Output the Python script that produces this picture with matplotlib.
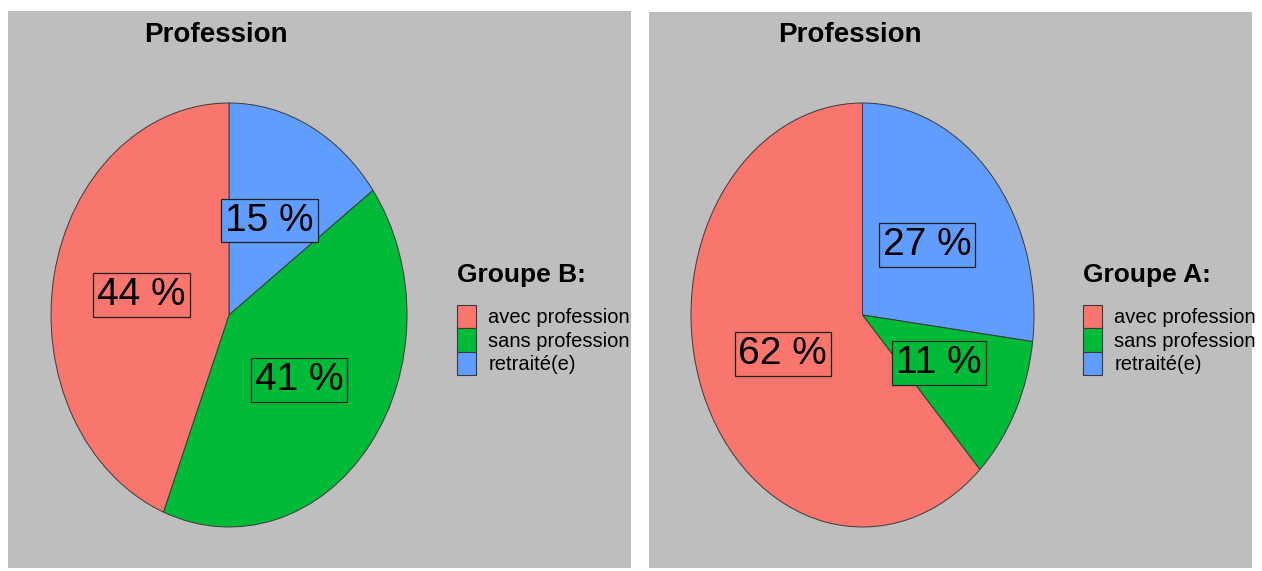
import matplotlib
matplotlib.use("Agg")
import matplotlib.pyplot as plt
from matplotlib.patches import Rectangle, Patch

# ---- data ----
categories = ["avec profession", "sans profession", "retraité(e)"]
colors = {"avec profession": "#F8766D", "sans profession": "#00BA38", "retraité(e)": "#619CFF"}
# pie drawn clockwise from top: retraité, sans, avec
pie_order = ["retraité(e)", "sans profession", "avec profession"]
groupe_b = {"avec profession": 44, "sans profession": 41, "retraité(e)": 15}
groupe_a = {"avec profession": 62, "sans profession": 11, "retraité(e)": 27}
title_text = "Profession"
legend_titles = ["Groupe B:", "Groupe A:"]

W, H = 1262, 571
fig = plt.figure(figsize=(W / 100, H / 100), dpi=100)
fig.patch.set_facecolor("white")

BG = "#BEBEBE"
EDGE = "#3a3a3a"
SANS = ["Liberation Sans", "DejaVu Sans"]


def fx(px):
    return px / W


def fy(py):
    return 1 - py / H


panels = [
    dict(rect=(8, 11, 631, 568), pie=(51, 103, 407, 527), title_x=216,
         leg=(443, 249), data=groupe_b, ltitle=legend_titles[0]),
    dict(rect=(649, 12, 1252, 568), pie=(691, 103, 1034, 527), title_x=850,
         leg=(1069, 249), data=groupe_a, ltitle=legend_titles[1]),
]

for p in panels:
    x0, y0, x1, y1 = p["rect"]
    fig.patches.append(Rectangle((fx(x0), fy(y1)), fx(x1 - x0), (y1 - y0) / H,
                                 transform=fig.transFigure, facecolor=BG,
                                 edgecolor="none", zorder=-5))
    px0, py0, px1, py1 = p["pie"]
    ax = fig.add_axes([fx(px0), fy(py1), fx(px1 - px0), (py1 - py0) / H])
    ax.set_axis_off()
    ax.set_zorder(2)
    vals = [p["data"][c] for c in pie_order]
    cols = [colors[c] for c in pie_order]
    wedges, texts, autotexts = ax.pie(
        vals, colors=cols, startangle=90, counterclock=False, radius=1,
        autopct=lambda v: f"{round(v)} %", pctdistance=0.5,
        wedgeprops=dict(edgecolor=EDGE, linewidth=0.7),
        textprops=dict(fontsize=28, family=SANS, color="black"))
    for t, c in zip(autotexts, cols):
        t.set_bbox(dict(boxstyle="square,pad=0.1", facecolor=c,
                        edgecolor="#222222", linewidth=0.9))
    ax.set_xlim(-1.0, 1.0)
    ax.set_ylim(-1.0, 1.0)
    ax.set_aspect("auto")

    fig.text(fx(p["title_x"]), fy(42), title_text, ha="center", va="baseline",
             fontsize=20, fontweight="bold", family=SANS)

    handles = [Patch(facecolor=colors[c], edgecolor=EDGE, linewidth=0.8)
               for c in categories]
    lx, ly = p["leg"]
    leg = fig.legend(handles, categories, loc="upper left",
                     bbox_to_anchor=(fx(lx), fy(ly)), frameon=False,
                     title=p["ltitle"],
                     title_fontproperties=dict(size=19, weight="bold", family=SANS),
                     prop=dict(size=14.5, family=SANS),
                     handlelength=0.95, handleheight=1.4, handletextpad=0.6,
                     labelspacing=0.0, borderpad=0.7, borderaxespad=0)
    leg._legend_box.align = "left"
    leg._legend_box.sep = 13
    leg.set_zorder(3)

fig.savefig("out.png", dpi=100, facecolor="white")
